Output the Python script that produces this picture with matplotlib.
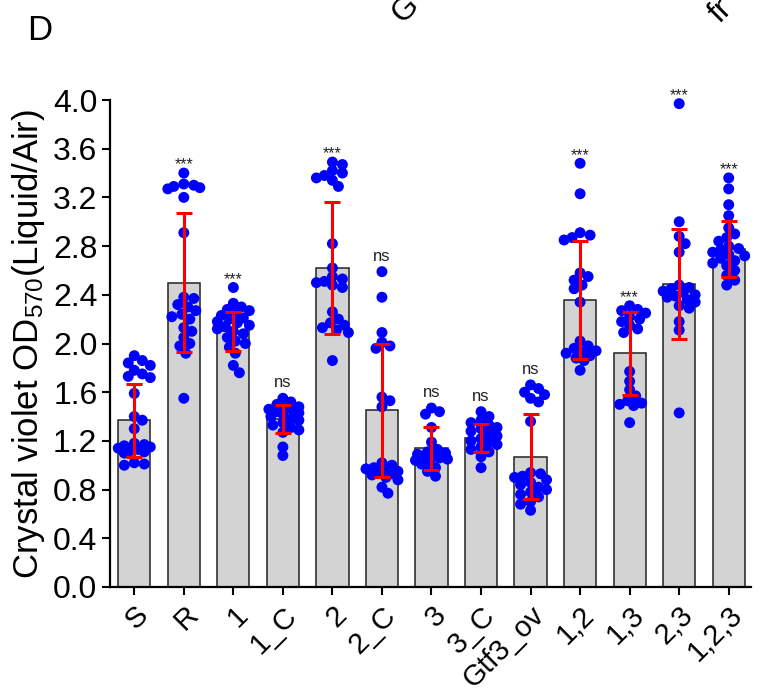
import numpy as np
import matplotlib
matplotlib.use('Agg')
import matplotlib.pyplot as plt

plt.rcParams['font.family'] = ['Liberation Sans', 'DejaVu Sans']
plt.rcParams['mathtext.fontset'] = 'custom'
plt.rcParams['mathtext.rm'] = 'Liberation Sans'
plt.rcParams['mathtext.it'] = 'Liberation Sans:italic'

categories = ['S', 'R', '1', '1_C', '2', '2_C', '3', '3_C', 'Gtf3_ov', '1,2', '1,3', '2,3', '1,2,3']
means = [1.37, 2.50, 2.10, 1.38, 2.62, 1.45, 1.14, 1.22, 1.07, 2.36, 1.92, 2.49, 2.78]
sds = [0.30, 0.57, 0.16, 0.115, 0.54, 0.55, 0.175, 0.115, 0.35, 0.485, 0.34, 0.45, 0.23]
significance = ['', '***', '***', 'ns', '***', 'ns', 'ns', 'ns', 'ns', '***', '***', '***', '***']

pts_S = [1.90, 1.86, 1.84, 1.82, 1.78, 1.75, 1.73, 1.72, 1.59, 1.40, 1.37, 1.30, 1.18, 1.17,
         1.16, 1.15, 1.14, 1.13, 1.12, 1.11, 1.10, 1.02, 1.00, 1.01]
pts_R = [3.40, 3.31, 3.30, 3.29, 3.28, 3.27, 3.20, 2.91, 2.38, 2.37, 2.32, 2.30, 2.27, 2.24,
         2.22, 2.20, 2.13, 2.10, 2.05, 2.00, 1.98, 1.92, 1.55]
pts_1 = [2.46, 2.33, 2.30, 2.28, 2.27, 2.25, 2.23, 2.21, 2.20, 2.18, 2.17, 2.15, 2.14, 2.12,
         2.10, 2.08, 2.05, 2.02, 2.00, 1.97, 1.92, 1.82, 1.76]
pts_1C = [1.55, 1.52, 1.50, 1.48, 1.47, 1.46, 1.45, 1.44, 1.43, 1.42, 1.40, 1.38, 1.37, 1.35,
          1.33, 1.31, 1.29, 1.27, 1.15, 1.08]
pts_2 = [3.49, 3.47, 3.42, 3.40, 3.38, 3.36, 3.34, 3.29, 2.82, 2.62, 2.55, 2.53, 2.51, 2.50,
         2.48, 2.46, 2.26, 2.20, 2.17, 2.15, 2.13, 2.11, 2.09, 1.86]
pts_2C = [2.59, 2.38, 2.09, 2.01, 1.98, 1.96, 1.56, 1.53, 1.48, 1.02, 1.00, 0.98, 0.97, 0.96,
          0.95, 0.94, 0.93, 0.92, 0.90, 0.88, 0.82, 0.77]
pts_3 = [1.47, 1.44, 1.42, 1.31, 1.19, 1.13, 1.11, 1.10, 1.09, 1.08, 1.07, 1.06, 1.05, 1.04,
         1.03, 1.01, 0.98, 0.95, 0.91]
pts_3C = [1.44, 1.40, 1.37, 1.35, 1.33, 1.31, 1.30, 1.28, 1.26, 1.24, 1.22, 1.20, 1.19, 1.17,
          1.15, 1.13, 1.11, 1.07, 0.98]
pts_Gtf3 = [1.66, 1.63, 1.60, 1.58, 1.55, 1.52, 1.36, 0.94, 0.93, 0.91, 0.90, 0.88, 0.86, 0.84,
            0.82, 0.80, 0.78, 0.76, 0.74, 0.70, 0.68, 0.63]
pts_12 = [3.48, 3.23, 2.91, 2.89, 2.87, 2.85, 2.58, 2.55, 2.52, 2.48, 2.45, 2.34, 2.02, 1.98,
          1.96, 1.94, 1.93, 1.92, 1.90, 1.88, 1.86, 1.78]
pts_13 = [2.31, 2.28, 2.27, 2.25, 2.22, 2.20, 2.18, 2.15, 2.12, 2.09, 1.77, 1.69, 1.62, 1.57,
          1.53, 1.51, 1.50, 1.49, 1.35]
pts_23 = [3.97, 3.00, 2.88, 2.82, 2.75, 2.48, 2.46, 2.45, 2.43, 2.42, 2.40, 2.39, 2.38, 2.36,
          2.34, 2.31, 2.29, 2.18, 2.11, 1.43]
pts_123 = [3.36, 3.27, 3.14, 3.05, 2.95, 2.90, 2.87, 2.84, 2.80, 2.78, 2.77, 2.75, 2.73, 2.72,
           2.70, 2.68, 2.66, 2.64, 2.60, 2.56, 2.52, 2.48]

points = [pts_S, pts_R, pts_1, pts_1C, pts_2, pts_2C, pts_3, pts_3C, pts_Gtf3,
          pts_12, pts_13, pts_23, pts_123]


def swarm_offsets(vals, ppu_x, ppu_y, d=8.5, maxoff=17.0):
    vals = np.asarray(vals, dtype=float)
    order = np.argsort(-vals)
    placed = []
    offs = np.zeros(len(vals))
    cands = [0.0]
    for k in range(1, 12):
        cands += [k * 2.0, -k * 2.0]
    for i in order:
        y = vals[i] * ppu_y
        chosen = None
        for c in cands:
            if abs(c) > maxoff:
                continue
            if all((c - px) ** 2 + (y - py) ** 2 >= d * d for px, py in placed):
                chosen = c
                break
        if chosen is None:
            best, bestd = 0.0, -1
            for c in cands:
                if abs(c) > maxoff:
                    continue
                md = min(((c - px) ** 2 + (y - py) ** 2) for px, py in placed)
                if md > bestd:
                    bestd, best = md, c
            chosen = best
        placed.append((chosen, y))
        offs[i] = chosen / ppu_x
    return offs


W, H = 763, 692
fig = plt.figure(figsize=(W / 100, H / 100), dpi=100)
left_px, right_px, bottom_px, top_px = 110, 751, 587, 100
ax = fig.add_axes([left_px / W, 1 - bottom_px / H, (right_px - left_px) / W, (bottom_px - top_px) / H])

x = np.arange(len(categories))
ax.set_xlim(-0.49, len(categories) - 1 + 0.45)
ax.set_ylim(0, 4.0)
ppu_x = (right_px - left_px) / (len(categories) - 1 + 0.45 + 0.49)
ppu_y = (bottom_px - top_px) / 4.0

ax.bar(x, means, width=0.65, color='#d3d3d3', edgecolor='#222222', linewidth=1.1, zorder=1)

for i, vals in enumerate(points):
    offs = swarm_offsets(vals, ppu_x, ppu_y)
    ax.scatter(x[i] + offs, vals, s=62, color='#0000ff', edgecolors='none', zorder=3, clip_on=False)

ax.errorbar(x, means, yerr=sds, fmt='none', ecolor='#ff0000', elinewidth=2.2,
            capsize=5.8, capthick=2.2, zorder=4)

for i, lab in enumerate(significance):
    if not lab:
        continue
    top = max(points[i])
    if lab == 'ns':
        ax.text(x[i], top + 0.09, lab, ha='center', va='baseline', fontsize=12,
                color='#222222', clip_on=False)
    else:
        ax.text(x[i], top + 0.03, lab, ha='center', va='baseline', fontsize=11.5,
                color='#222222', clip_on=False)

yt = np.arange(0, 4.01, 0.4)
ax.set_yticks(yt)
ax.set_yticklabels([f'{v:.1f}' for v in yt])
ax.set_xticks(x)
ax.set_xticklabels(categories, rotation=45, ha='right', rotation_mode='anchor')
ax.tick_params(axis='both', length=6, width=1.5, direction='out', colors='black')
ax.tick_params(axis='y', labelsize=23, pad=3)
ax.tick_params(axis='x', labelsize=21, pad=4)
for s in ['top', 'right']:
    ax.spines[s].set_visible(False)
for s in ['left', 'bottom']:
    ax.spines[s].set_linewidth(1.6)

ax.set_ylabel('Crystal violet OD$_{570}$(Liquid/Air)', fontsize=25, labelpad=4)

fig.text(0.035, 1 - 40 / H, 'D', fontsize=25, ha='left', va='baseline')
fig.text(386 / W, 1 - 22 / H, 'G', fontsize=23, rotation=45, ha='left', va='baseline')
fig.text(703 / W, 1 - 22 / H, 'fr', fontsize=23, rotation=45, ha='left', va='baseline')

fig.savefig('out.png', dpi=100)
